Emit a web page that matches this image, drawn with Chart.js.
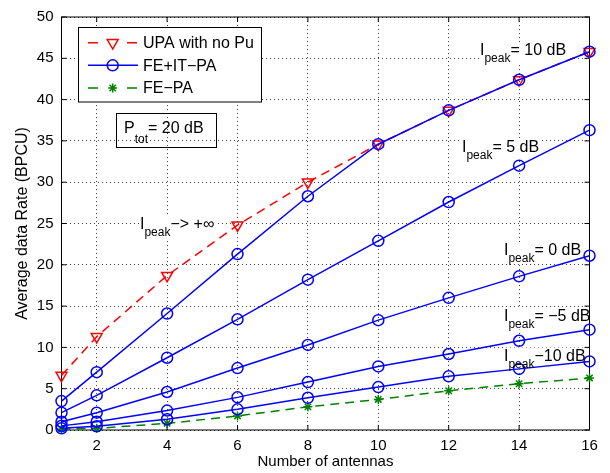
<!DOCTYPE html>
<html>
<head>
  <title>Average data rate vs number of antennas</title>
  <script src="https://cdn.jsdelivr.net/npm/chart.js"></script>
  <style>body { margin: 0; background: #fff; }</style>
</head>
<body>
<canvas id="rateChart" width="610" height="473"></canvas>

<script>
  // values
  const antennas = [1, 2, 4, 6, 8, 10, 12, 14, 16];
  const upaNoPu  = [6.6, 11.3, 18.7, 24.8, 30.0, 34.6, 38.7, 42.4, 45.8];
  const feItPa10 = [3.5, 7.0, 14.1, 21.3, 28.3, 34.6, 38.7, 42.4, 45.8];
  const feItPa5  = [2.1, 4.2, 8.75, 13.4, 18.2, 22.9, 27.6, 32.0, 36.3];
  const feItPa0  = [1.0, 2.1, 4.6, 7.5, 10.3, 13.3, 16.0, 18.6, 21.1];
  const feItPaM5 = [0.5, 1.0, 2.35, 3.95, 5.8, 7.7, 9.2, 10.8, 12.15];
  const feItPaM10 = [0.2, 0.45, 1.3, 2.5, 3.9, 5.2, 6.5, 7.4, 8.3];
  const fePa     = [0.1, 0.2, 0.8, 1.7, 2.8, 3.7, 4.75, 5.6, 6.3];

  const xTicks = [2, 4, 6, 8, 10, 12, 14, 16];
  const yTicks = [0, 5, 10, 15, 20, 25, 30, 35, 40, 45, 50];

  const legendNames = ["UPA with no Pu", "FE+IT\u2212PA", "FE\u2212PA"];
  const peakTexts = ["\u2212> +\u221e", "= 10 dB", "= 5 dB", "= 0 dB", "= \u22125 dB", "\u221210 dB"];
  const ptotText = "= 20 dB";

  // where the text notes sit (pixels)
  const peakSpots = [[140, 229], [480, 55], [462, 151.5], [504, 255], [504, 320.5], [504, 360.5]];

  const FONT = "'Liberation Sans', Arial, Helvetica, sans-serif";
  const RED = "#ff0000", BLUE = "#0000ff", GREEN = "#008000";

  function pts(ys) {
    return antennas.map((x, i) => ({ x: x, y: ys[i] }));
  }

  function blueSet(ys) {
    return {
      data: pts(ys), borderColor: BLUE, borderWidth: 1.5, clip: false,
      pointStyle: "circle", pointRadius: 5.5, pointBorderWidth: 1.5,
      pointBorderColor: BLUE, pointBackgroundColor: "rgba(0,0,0,0)", order: 0
    };
  }

  function drawMark(ctx, style, x, y, color) {
    ctx.save();
    ctx.strokeStyle = color;
    ctx.lineWidth = 1.5;
    ctx.setLineDash([]);
    ctx.beginPath();
    if (style === "circle") {
      ctx.arc(x, y, 5.5, 0, Math.PI * 2);
    } else if (style === "tri") {
      const r = 6.3;
      ctx.moveTo(x, y + r);
      ctx.lineTo(x - r * 0.866, y - r / 2);
      ctx.lineTo(x + r * 0.866, y - r / 2);
      ctx.closePath();
    } else {
      const r = 4.5;
      for (let k = 0; k < 4; k++) {
        const a = k * Math.PI / 4;
        ctx.moveTo(x - Math.cos(a) * r, y - Math.sin(a) * r);
        ctx.lineTo(x + Math.cos(a) * r, y + Math.sin(a) * r);
      }
    }
    ctx.stroke();
    ctx.restore();
  }

  // I with subscript "peak" followed by the rest
  function peakWidth(ctx, rest) {
    ctx.font = "16px " + FONT;
    let w = ctx.measureText("I").width;
    ctx.font = "12px " + FONT;
    w += ctx.measureText("peak").width;
    ctx.font = "16px " + FONT;
    return w + ctx.measureText(rest).width;
  }

  const extras = {
    id: "extras",
    beforeDatasetsDraw(chart) {
      const ctx = chart.ctx;
      const a = chart.chartArea;
      const xs = chart.scales.x, ys = chart.scales.y;
      ctx.save();
      // white patches behind the notes
      ctx.fillStyle = "#fff";
      peakTexts.forEach((t, i) => {
        const [px, py] = peakSpots[i];
        const w = peakWidth(ctx, t);
        ctx.fillRect(px - 1, py - 13, w + 3, 22);
      });
      // frame and inward ticks
      ctx.strokeStyle = "#000";
      ctx.lineWidth = 1;
      ctx.setLineDash([]);
      ctx.strokeRect(a.left, a.top, a.right - a.left, a.bottom - a.top);
      ctx.beginPath();
      xTicks.forEach(v => {
        const px = xs.getPixelForValue(v);
        ctx.moveTo(px, a.bottom); ctx.lineTo(px, a.bottom - 5);
        ctx.moveTo(px, a.top); ctx.lineTo(px, a.top + 5);
      });
      yTicks.forEach(v => {
        const py = ys.getPixelForValue(v);
        ctx.moveTo(a.left, py); ctx.lineTo(a.left + 5, py);
        ctx.moveTo(a.right, py); ctx.lineTo(a.right - 5, py);
      });
      ctx.stroke();
      ctx.restore();
    },
    afterDatasetsDraw(chart) {
      const ctx = chart.ctx;
      ctx.save();
      ctx.fillStyle = "#000";
      ctx.textBaseline = "alphabetic";
      ctx.textAlign = "left";

      // I_peak notes
      peakTexts.forEach((t, i) => {
        let [px, py] = peakSpots[i];
        ctx.font = "16px " + FONT;
        ctx.fillText("I", px, py);
        px += ctx.measureText("I").width;
        ctx.font = "12px " + FONT;
        ctx.fillText("peak", px, py + 7);
        px += ctx.measureText("peak").width;
        ctx.font = "16px " + FONT;
        ctx.fillText(t, px, py);
      });

      // P_tot box
      ctx.strokeStyle = "#000";
      ctx.lineWidth = 1;
      ctx.strokeRect(116.5, 113.5, 100, 34);
      let px = 124;
      ctx.font = "16px " + FONT;
      ctx.fillText("P", px, 133);
      px += ctx.measureText("P").width;
      ctx.font = "12px " + FONT;
      ctx.fillText("tot", px, 143);
      px += ctx.measureText("tot").width;
      ctx.font = "16px " + FONT;
      ctx.fillText(ptotText, px, 133);

      // legend
      ctx.fillStyle = "#fff";
      ctx.fillRect(78.5, 27.5, 183, 74.5);
      ctx.strokeRect(78.5, 27.5, 183, 74.5);
      const rows = [42.7, 65.3, 88];
      const cols = [RED, BLUE, GREEN];
      const marks = ["tri", "circle", "star"];
      rows.forEach((ry, i) => {
        ctx.strokeStyle = cols[i];
        ctx.lineWidth = 1.5;
        ctx.beginPath();
        if (i === 1) {
          ctx.moveTo(88, ry); ctx.lineTo(138, ry);
        } else {
          ctx.moveTo(88, ry); ctx.lineTo(98, ry);
          ctx.moveTo(127, ry); ctx.lineTo(137, ry);
        }
        ctx.stroke();
        drawMark(ctx, marks[i], 112.7, ry, cols[i]);
        ctx.fillStyle = "#000";
        ctx.font = "16px " + FONT;
        ctx.textBaseline = "middle";
        ctx.fillText(legendNames[i], 143, ry + 1);
      });
      ctx.restore();
    }
  };

  Chart.defaults.font.family = FONT;
  Chart.defaults.color = "#000";

  const ctx = document.getElementById("rateChart").getContext("2d");
  const rateChart = new Chart(ctx, {
    type: "line",
    data: {
      datasets: [
        {
          data: pts(upaNoPu), borderColor: RED, borderWidth: 1.5, borderDash: [9, 6], clip: false,
          pointStyle: "triangle", rotation: 180, pointRadius: 6.3, pointBorderWidth: 1.5,
          pointBorderColor: RED, pointBackgroundColor: "rgba(0,0,0,0)", order: 1
        },
        blueSet(feItPa10),
        blueSet(feItPa5),
        blueSet(feItPa0),
        blueSet(feItPaM5),
        blueSet(feItPaM10),
        {
          data: pts(fePa), borderColor: GREEN, borderWidth: 1.5, borderDash: [9, 6], clip: false,
          pointStyle: "star", pointRadius: 4.5, pointBorderWidth: 1.5,
          pointBorderColor: GREEN, pointBackgroundColor: GREEN, order: 1
        }
      ]
    },
    options: {
      responsive: false,
      animation: false,
      events: [],
      layout: { padding: { left: 0, right: 20.5, top: 13, bottom: 0 } },
      plugins: { legend: { display: false }, tooltip: { enabled: false } },
      scales: {
        x: {
          type: "linear",
          min: 1,
          max: 16,
          afterBuildTicks: s => { s.ticks = xTicks.map(v => ({ value: v })); },
          afterFit: s => { s.height = 43; },
          grid: { color: "rgba(0,0,0,0.75)", lineWidth: 1, drawTicks: false },
          border: { display: false, dash: [1, 3] },
          ticks: { font: { size: 15 }, padding: 7, maxRotation: 0, autoSkip: false },
          title: { display: true, text: "Number of antennas", font: { size: 15 }, padding: { top: 0, bottom: 2 } }
        },
        y: {
          min: 0,
          max: 50,
          afterBuildTicks: s => { s.ticks = yTicks.map(v => ({ value: v })); },
          afterFit: s => { s.width = 61.5; },
          grid: { color: "rgba(0,0,0,0.75)", lineWidth: 1, drawTicks: false },
          border: { display: false, dash: [1, 3] },
          ticks: { font: { size: 15 }, padding: 8 },
          title: { display: true, text: "Average data Rate (BPCU)", font: { size: 16 }, padding: { top: 13, bottom: 0 } }
        }
      }
    },
    plugins: [extras]
  });
</script>
</body>
</html>
